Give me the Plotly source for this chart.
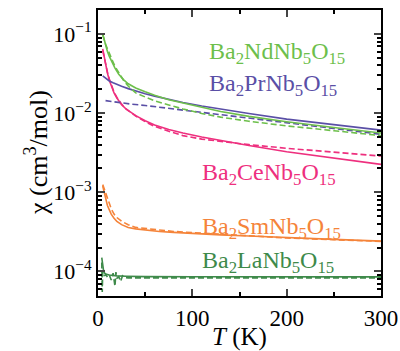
import plotly.graph_objects as go

# ---------------- data ----------------
T_nd = [5, 6, 7, 8, 10, 12, 15, 18, 22, 27, 32, 40, 50, 60, 75, 90, 110, 130, 160, 200, 250, 300]
nd_solid = [0.100, 0.090, 0.080, 0.072, 0.060, 0.052, 0.043, 0.037, 0.031, 0.0265, 0.0235, 0.0208, 0.0186,
            0.0168, 0.0148, 0.0134, 0.0118, 0.0105, 0.0091, 0.0078, 0.0066, 0.0056]
nd_dash = [0.098, 0.088, 0.080, 0.074, 0.065, 0.056, 0.047, 0.039, 0.032, 0.026, 0.022, 0.018, 0.0160,
           0.0143, 0.0127, 0.0113, 0.0099, 0.0089, 0.0079, 0.0069, 0.0060, 0.0052]

T_pr = [5, 8, 12, 16, 20, 25, 32, 40, 50, 60, 75, 90, 110, 130, 160, 200, 250, 300]
pr_solid = [0.0295, 0.0275, 0.0255, 0.0242, 0.0230, 0.0218, 0.0204, 0.0190, 0.0176, 0.0164, 0.0148,
            0.0136, 0.0123, 0.0112, 0.0099, 0.0084, 0.0071, 0.0061]
T_pr_d = [8, 15, 25, 35, 50, 70, 90, 110, 140, 170, 200, 250, 300]
pr_dash = [0.0144, 0.0140, 0.0135, 0.0130, 0.0125, 0.0117, 0.0110, 0.0102, 0.0092, 0.0084, 0.0077, 0.0064, 0.0054]

T_ce = [5, 6, 7, 8, 10, 12, 14, 17, 20, 25, 30, 40, 50, 60, 75, 90, 110, 130, 160, 200, 250, 300]
ce_solid = [0.065, 0.055, 0.047, 0.041, 0.032, 0.026, 0.022, 0.0180, 0.0155, 0.0128, 0.0112, 0.0093, 0.0080,
            0.0071, 0.0062, 0.0056, 0.0050, 0.0045, 0.0039, 0.00325, 0.0027, 0.00225]
ce_dash = [0.062, 0.054, 0.047, 0.041, 0.033, 0.027, 0.023, 0.0185, 0.0158, 0.0130, 0.0112, 0.0092, 0.0078,
           0.0068, 0.0059, 0.0052, 0.0047, 0.0044, 0.0040, 0.0036, 0.0032, 0.00287]

T_sm = [5, 6, 7, 8, 9, 10, 12, 14, 17, 20, 25, 32, 40, 50, 65, 80, 100, 130, 160, 200, 250, 300]
sm_solid = [0.00120, 0.00105, 0.00092, 0.00082, 0.00074, 0.00068, 0.00060, 0.00053, 0.00047, 0.00043, 0.00039,
            0.00036, 0.000345, 0.000333, 0.00032, 0.000312, 0.000302, 0.00029, 0.00028, 0.000266, 0.000254, 0.000242]
sm_dash = [0.00125, 0.00115, 0.00105, 0.00097, 0.00089, 0.00082, 0.00071, 0.00062, 0.00053, 0.00048, 0.00043,
           0.00039, 0.00036, 0.00035, 0.00034, 0.00032, 0.00031, 0.000295, 0.00028, 0.000265, 0.000252, 0.00024]

T_la = [4, 5, 6, 7, 9, 12, 15, 20, 30, 50, 100, 200, 300]
la_solid = [0.00015, 0.00011, 0.000100, 0.000095, 0.000092, 0.000090, 0.000089, 0.000088, 0.000087,
            0.000086, 0.0000858, 0.0000855, 0.0000855]
T_la_d = [4, 4.5, 5, 6, 7, 8, 10, 12, 14, 16, 18, 19, 20, 22, 24, 26, 28, 32, 40, 50, 100, 200, 300]
la_dash = [1.3e-4, 5.5e-5, 1.0e-4, 9.5e-5, 8.8e-5, 9.2e-5, 8.5e-5, 9.0e-5, 7.8e-5, 9.5e-5, 6.5e-5, 9.8e-5,
           8.2e-5, 8.6e-5, 7.5e-5, 8.8e-5, 8.4e-5, 8.3e-5, 8.3e-5, 8.3e-5, 8.3e-5, 8.3e-5, 8.3e-5]

labels = ["Ba<sub>2</sub>NdNb<sub>5</sub>O<sub>15</sub>",
          "Ba<sub>2</sub>PrNb<sub>5</sub>O<sub>15</sub>",
          "Ba<sub>2</sub>CeNb<sub>5</sub>O<sub>15</sub>",
          "Ba<sub>2</sub>SmNb<sub>5</sub>O<sub>15</sub>",
          "Ba<sub>2</sub>LaNb<sub>5</sub>O<sub>15</sub>"]
colors = ["#6dbf4b", "#5a4fa6", "#ee2f7e", "#f5843a", "#3e8a4a"]

xticks = [0, 100, 200, 300]
yticks = [1e-4, 1e-3, 1e-2, 1e-1]
yticktext = ["10<sup>−4</sup>", "10<sup>−3</sup>", "10<sup>−2</sup>", "10<sup>−1</sup>"]
ytitle = "χ (cm<sup>3</sup>/mol)"
xtitle = "<i>T</i> (K)"

# ---------------- figure ----------------
FONT = "Liberation Serif"
fig = go.Figure()

series = [
    (T_la, la_solid, T_la_d, la_dash, colors[4]),
    (T_sm, sm_solid, T_sm, sm_dash, colors[3]),
    (T_ce, ce_solid, T_ce, ce_dash, colors[2]),
    (T_pr, pr_solid, T_pr_d, pr_dash, colors[1]),
    (T_nd, nd_solid, T_nd, nd_dash, colors[0]),
]
for ts, vs, td, vd, c in series:
    fig.add_trace(go.Scatter(x=td, y=vd, mode="lines", line=dict(color=c, width=1.6, dash="6px,3px"),
                             showlegend=False))
    fig.add_trace(go.Scatter(x=ts, y=vs, mode="lines", line=dict(color=c, width=1.6), showlegend=False))

label_pos = [(207, 53), (207, 85), (200, 174), (200, 228), (200, 262)]
L, R, TOP, B = 98, 381, 10, 296
for text, c, (px, py) in zip(labels, colors, label_pos):
    fig.add_annotation(text=text, xref="paper", yref="paper",
                       x=(px - L) / (R - L), y=1 - (py - TOP) / (B - TOP),
                       xanchor="left", yanchor="middle", showarrow=False,
                       font=dict(family=FONT, size=24, color=c))

# y-axis title as a rotated annotation, centred on the plot's vertical middle
fig.add_annotation(text=ytitle, xref="paper", yref="paper",
                   x=(36 - L) / (R - L), y=0.5, textangle=-90,
                   xanchor="center", yanchor="middle", showarrow=False,
                   font=dict(family=FONT, size=26, color="black"))

minor_y = [k * 10.0 ** e for e in range(-5, 0) for k in range(2, 10)]

fig.update_xaxes(range=[0, 300], tickvals=xticks, ticks="inside", ticklen=7, tickwidth=2,
                 showline=True, linewidth=2, linecolor="black", mirror="allticks",
                 showgrid=False, zeroline=False, automargin=False,
                 tickfont=dict(family=FONT, size=23, color="black"),
                 minor=dict(tickvals=[50, 150, 250], ticks="inside", ticklen=4, tickwidth=2,
                            tickcolor="black", showgrid=False),
                 title=dict(text=xtitle, font=dict(family=FONT, size=25, color="black"), standoff=3))
fig.update_yaxes(type="log", range=[-4.31, -0.697], tickvals=yticks, ticktext=yticktext,
                 ticks="inside", ticklen=7, tickwidth=2,
                 showline=True, linewidth=2, linecolor="black", mirror="allticks",
                 showgrid=False, zeroline=False, automargin=False,
                 tickfont=dict(family=FONT, size=22, color="black"),
                 minor=dict(tickvals=minor_y, ticks="inside", ticklen=4, tickwidth=2,
                            tickcolor="black", showgrid=False))

fig.update_layout(width=400, height=351, margin=dict(l=L, r=400 - R, t=TOP, b=351 - B),
                  plot_bgcolor="white", paper_bgcolor="white")

fig.write_html("out.html")
